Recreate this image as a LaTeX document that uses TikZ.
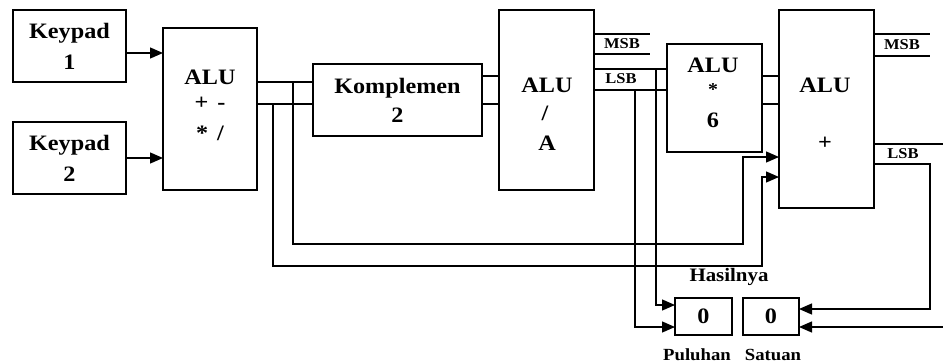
\documentclass[tikz,border=0pt]{standalone}
\usepackage{fontspec}
\setmainfont{Liberation Serif}
\newfontfamily\diag{Liberation Serif Bold}[FakeStretch=1.1]
\usetikzlibrary{arrows.meta}
\begin{document}
\begin{tikzpicture}[x=1pt,y=-1pt, line width=1.3pt,
  box/.style={draw, inner sep=0pt, outer sep=0pt, align=center, font=\diag\fontsize{22}{31}\selectfont},
  lbl/.style={inner sep=0pt, font=\diag\fontsize{22}{24}\selectfont},
  small/.style={inner sep=0pt, font=\diag\fontsize{15}{17}\selectfont},
  mid/.style={inner sep=0pt, font=\diag\fontsize{19}{21}\selectfont},
  bot/.style={inner sep=0pt, font=\diag\fontsize{17}{19}\selectfont},
  arr/.style={-{Triangle[length=13pt,width=11pt]}}]
\useasboundingbox[fill=white] (0,0) rectangle (943,364);

% boxes
\node[box, minimum width=113pt, minimum height=72pt] (k1) at (69.5,46) {Keypad\\1};
\node[box, minimum width=113pt, minimum height=72pt] (k2) at (69.5,158) {Keypad\\2};
\node[box, minimum width=94pt, minimum height=162pt] (alu1) at (210,109) {};
\node[box, minimum width=169pt, minimum height=72pt, font=\diag\fontsize{22}{29}\selectfont] (komp) at (397.5,100) {Komplemen\\2};
\node[box, minimum width=95pt, minimum height=180pt] (alu2) at (546.5,100) {};
\node[box, minimum width=95pt, minimum height=108pt] (alu3) at (714.5,98) {};
\node[box, minimum width=95pt, minimum height=198pt] (alu4) at (826.5,109) {};
\node[box, minimum width=57pt, minimum height=37pt] (pul) at (703.5,316.5) {0};
\node[box, minimum width=56pt, minimum height=37pt] (sat) at (771,316.5) {0};

% box texts
\node[lbl] (a1t) at (210,77) {ALU};
\node[lbl] (a1p) at (210,103) {+\hspace{9pt}-};
\node[lbl] (a1m) at (210,133) {*\hspace{9pt}/};
\node[lbl] (a2t) at (547,85) {ALU};
\node[lbl] (a2d) at (545,113) {/};
\node[lbl] (a2a) at (547,143) {A};
\node[lbl] (a3t) at (713,65) {ALU};
\node[lbl, font=\diag\fontsize{18}{20}\selectfont] (a3m) at (713,90) {*};
\node[lbl] (a3s) at (713,120) {6};
\node[lbl] (a4t) at (825,85) {ALU};
\node[lbl] (a4p) at (825,143) {+};

% small labels
\node[small] (msb1) at (622,44) {MSB};
\node[small] (lsb1) at (621,79) {LSB};
\node[small] (msb2) at (902,45) {MSB};
\node[small] (lsb2) at (903,154) {LSB};
\node[mid] (has) at (729,277) {Hasilnya};
\node[bot] (pult) at (697,355) {Puluhan};
\node[bot] (satt) at (773,355) {Satuan};

% free ends
\coordinate (m1e) at (650,34);
\coordinate (m2e) at (650,54);
\coordinate (m3e) at (930,34);
\coordinate (m4e) at (930,56);
\coordinate (l1e) at (943,144);
\coordinate (r1) at (943,327);

% keypads to ALU
\draw[arr] (k1.east |- 0,53) -- (alu1.west |- 0,53);
\draw[arr] (k2.east |- 0,158) -- (alu1.west |- 0,158);

% ALU1 to Komplemen
\draw (alu1.east |- 0,82) -- (komp.west |- 0,82);
\draw (alu1.east |- 0,104) -- (komp.west |- 0,104);

% taps to ALU4
\draw[arr] (293,82) -- (293,244) -- (743,244) -- (743,157) -- (alu4.west |- 0,157);
\draw[arr] (273,104) -- (273,266) -- (762,266) -- (762,177) -- (alu4.west |- 0,177);

% Komplemen to ALU2
\draw (komp.east |- 0,76) -- (alu2.west |- 0,76);
\draw (komp.east |- 0,104) -- (alu2.west |- 0,104);

% ALU2 MSB
\draw (alu2.east |- m1e) -- (m1e);
\draw (alu2.east |- m2e) -- (m2e);

% ALU2 LSB to ALU3
\draw (alu2.east |- 0,69) -- (alu3.west |- 0,69);
\draw (alu2.east |- 0,90) -- (alu3.west |- 0,90);

% LSB taps to Puluhan
\draw[arr] (656,69) -- (656,305) -- (pul.west |- 0,305);
\draw[arr] (635,90) -- (635,327) -- (pul.west |- 0,327);

% ALU3 to ALU4
\draw (alu3.east |- 0,76) -- (alu4.west |- 0,76);
\draw (alu3.east |- 0,104) -- (alu4.west |- 0,104);

% ALU4 outputs
\draw (alu4.east |- m3e) -- (m3e);
\draw (alu4.east |- m4e) -- (m4e);
\draw (alu4.east |- l1e) -- (l1e);
\draw[arr] (alu4.east |- 0,164) -- (930,164) -- (930,309) -- (sat.east |- 0,309);
\draw[arr] (r1) -- (sat.east |- r1);
\end{tikzpicture}
\end{document}
